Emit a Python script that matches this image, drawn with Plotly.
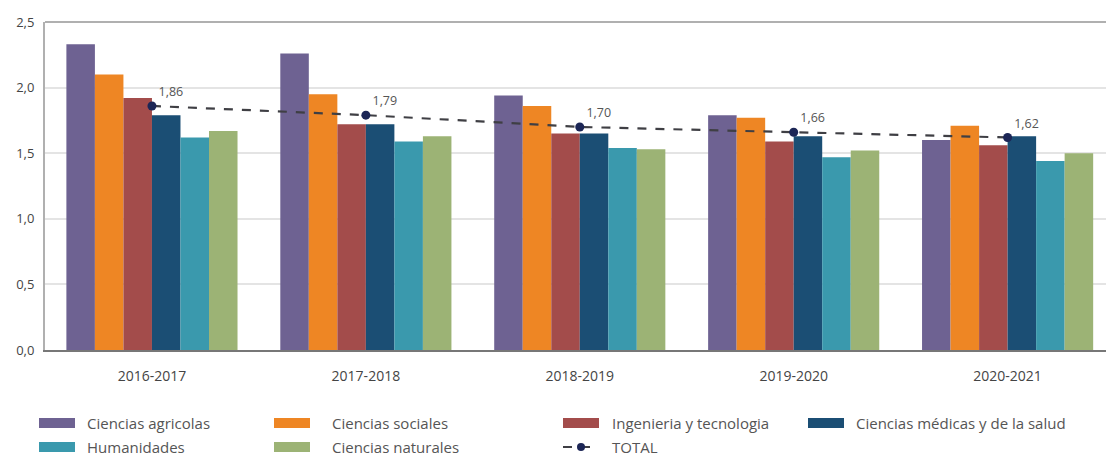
import plotly.graph_objects as go

categories = ["2016-2017", "2017-2018", "2018-2019", "2019-2020", "2020-2021"]
series_names = ["Ciencias agricolas", "Ciencias sociales", "Ingenieria y tecnologia",
                "Ciencias médicas y de la salud", "Humanidades", "Ciencias naturales"]
ciencias_agricolas = [2.33, 2.26, 1.94, 1.79, 1.60]
ciencias_sociales = [2.10, 1.95, 1.86, 1.77, 1.71]
ingenieria = [1.92, 1.72, 1.65, 1.59, 1.56]
ciencias_medicas = [1.79, 1.72, 1.65, 1.63, 1.63]
humanidades = [1.62, 1.59, 1.54, 1.47, 1.44]
ciencias_naturales = [1.67, 1.63, 1.53, 1.52, 1.50]
total = [1.86, 1.79, 1.70, 1.66, 1.62]
total_name = "TOTAL"
y_ticks = [0, 0.5, 1.0, 1.5, 2.0, 2.5]

series_values = [ciencias_agricolas, ciencias_sociales, ingenieria,
                 ciencias_medicas, humanidades, ciencias_naturales]
colors = ["#6e6292", "#ee8624", "#a34c4b", "#1b4e74", "#3a99ad", "#9cb375"]

FONT = "Open Sans"
W, H = 1106, 456
ML, MR, MT, MB = 45, 0, 22, 106
PW, PH = W - ML - MR, H - MT - MB

fig = go.Figure()
for name, vals, col in zip(series_names, series_values, colors):
    fig.add_trace(go.Bar(x=categories, y=vals, name=name, marker_color=col,
                         marker_line_width=0, showlegend=False))

fig.add_trace(go.Scatter(x=categories, y=total, name=total_name, mode="lines+markers+text",
                         line=dict(color="#3f3f44", width=2.2, dash="dash"),
                         marker=dict(color="#1c2656", size=9),
                         text=[f"{v:.2f}".replace(".", ",") for v in total],
                         textposition="top right",
                         textfont=dict(family=FONT, size=12.5, color="#555"),
                         showlegend=False, cliponaxis=False))

def px_x(px):
    return (px - ML) / PW

def px_y(py):
    return (H - MB - py) / PH

shapes = []
annotations = []
# top frame line
shapes.append(dict(type="line", xref="paper", yref="paper", x0=0, x1=1, y0=1, y1=1,
                   line=dict(color="#b0b0b0", width=2)))

LEG_FONT = dict(family=FONT, size=15, color="#555")
legend_pos = [(39, 423, 85), (274, 423, 330), (563, 423, 610), (808, 423, 854),
              (39, 447, 85), (274, 447, 330)]
for (sx, sy, tx), name, col in zip(legend_pos, series_names, colors):
    shapes.append(dict(type="rect", xref="paper", yref="paper",
                       x0=px_x(sx), x1=px_x(sx + 36), y0=px_y(sy + 5), y1=px_y(sy - 5),
                       fillcolor=col, line=dict(width=0)))
    annotations.append(dict(text=name, xref="paper", yref="paper", x=px_x(tx), y=px_y(sy),
                            xanchor="left", yanchor="middle", showarrow=False,
                            font=LEG_FONT))
# TOTAL legend entry
sx, sy, tx = 563, 447, 610
shapes.append(dict(type="line", xref="paper", yref="paper", x0=px_x(sx), x1=px_x(sx + 36),
                   y0=px_y(sy), y1=px_y(sy), line=dict(color="#3f3f44", width=2.2, dash="dash")))
shapes.append(dict(type="circle", xref="paper", yref="paper", x0=px_x(sx + 14), x1=px_x(sx + 22),
                   y0=px_y(sy + 4), y1=px_y(sy - 4), fillcolor="#1c2656", line=dict(width=0)))
annotations.append(dict(text=total_name, xref="paper", yref="paper", x=px_x(tx), y=px_y(sy),
                        xanchor="left", yanchor="middle", showarrow=False,
                        font=LEG_FONT))

fig.update_layout(
    width=W, height=H,
    margin=dict(l=ML, r=MR, t=MT, b=MB),
    paper_bgcolor="white", plot_bgcolor="white",
    barmode="group", bargap=0.2, bargroupgap=0,
    separators=",.",
    font=dict(family=FONT, size=12, color="#555"),
    shapes=shapes, annotations=annotations,
    showlegend=False,
    xaxis=dict(type="category", range=[-0.5, 4.46], showgrid=False,
               showline=True, linecolor="#777", linewidth=2,
               tickfont=dict(family=FONT, size=14, color="#444"), ticks="",
               ticklabelstandoff=12),
    yaxis=dict(range=[0, 2.5], tickvals=y_ticks, tickformat=".1f",
               showgrid=True, gridcolor="#e4e4e4", gridwidth=1.5,
               showline=True, linecolor="#b0b0b0", linewidth=2,
               zeroline=False, ticks="", ticklabelstandoff=6,
               tickfont=dict(family=FONT, size=13, color="#444")),
)

fig.write_html("out.html", config={"displayModeBar": False})

# remove default page margin so the figure sits at the window's top-left corner
with open("out.html", "r", encoding="utf-8") as f:
    html = f.read()
html = html.replace("<body>", '<body style="margin:0;overflow:hidden">', 1)
with open("out.html", "w", encoding="utf-8") as f:
    f.write(html)
